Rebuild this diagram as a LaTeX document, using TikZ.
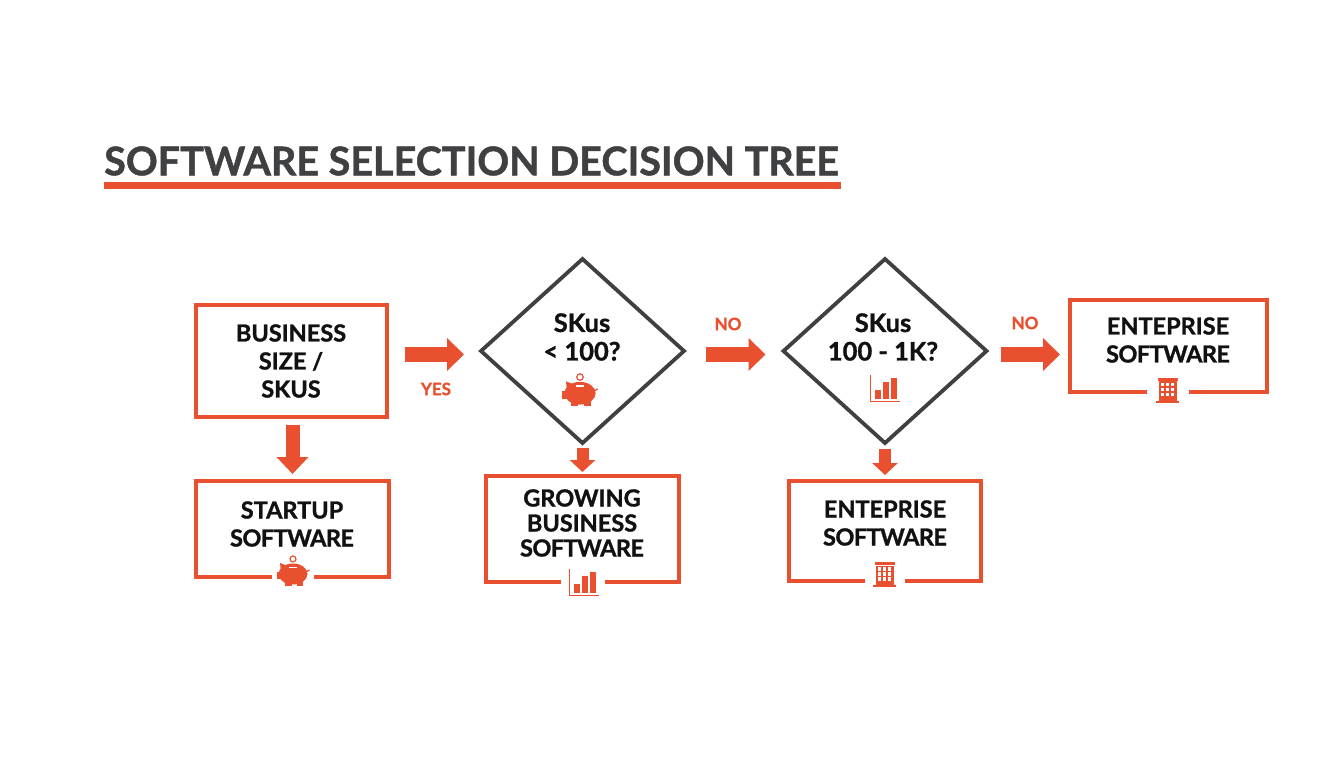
\documentclass[tikz,border=0pt]{standalone}
\usepackage{fontspec}
\setmainfont{Lato}[BoldFeatures={FakeBold=1.2}]
\usetikzlibrary{arrows.meta,shapes.geometric}
\definecolor{accent}{HTML}{E8502F}
\definecolor{slate}{HTML}{3F4042}
\definecolor{inkblack}{HTML}{111111}
\newcommand{\tight}[1]{{\addfontfeature{LetterSpace=-2.4}#1}}
\tikzset{
  boxline/.style={draw=accent,line width=3.6pt},
  frame/.style={inner sep=0pt,outer sep=0pt,minimum width=#1},
  decision/.style={shape=diamond,draw=slate,line width=3.8pt,inner sep=0pt,outer sep=0pt,minimum width=203pt,minimum height=184pt},
  lbl/.style={align=center,text=inkblack,font=\bfseries\fontsize{23.5}{28}\selectfont},
  asklbl/.style={align=center,text=inkblack,font=\bfseries\fontsize{25.5}{28.5}\selectfont},
  edgelbl/.style={text=accent,font=\bfseries\fontsize{17}{20}\selectfont},
  bigarrow/.style={draw=accent,fill=accent,line width=15pt,-{Triangle[length=17pt,width=32pt]}},
  midarrow/.style={draw=accent,fill=accent,line width=14pt,-{Triangle[length=17pt,width=31pt]}},
  smallarrow/.style={draw=accent,fill=accent,line width=12pt,-{Triangle[length=12pt,width=25pt]}},
  piggy/.pic={
    \fill[accent] (0,3) ellipse[x radius=14.5,y radius=10.5];
    \fill[accent] (-16.5,1) rectangle (-8,8);
    \fill[accent] (-13,-8) -- (-5,-5) -- (-12,1) -- cycle;
    \fill[accent] (-8,9) rectangle (-1.5,15);
    \fill[accent] (3.5,9) rectangle (10,15);
    \draw[accent,line width=1.2pt] (13,1) -- (16.5,-1);
    \draw[white,line width=1.3pt] (-4,-3.8) -- (4,-3.8);
    \draw[accent,line width=1.2pt] (0,-12) circle (3);
  },
  barsicon/.pic={
    \draw[accent,line width=1.4pt] (-14.5,-14) -- (-14.5,12.5) -- (14.5,12.5);
    \fill[accent] (-10,0.6) rectangle (-4.3,10);
    \fill[accent] (-2.3,-6.6) rectangle (4.3,10);
    \fill[accent] (6,-10.6) rectangle (12,10);
  },
  buildingicon/.pic={
    \fill[accent] (-10,-12.5) rectangle (10,-9.5);
    \fill[accent] (-9,-9) rectangle (9,10.5);
    \fill[accent] (-11.5,10.5) rectangle (11.5,12.5);
    \foreach \i in {-5,0,5}
      \foreach \j in {-5.5,-0.5,4.5}
        \fill[white] (\i-1.7,\j-1.7) rectangle (\i+1.7,\j+1.7);
  }
}
% box with a gap in the bottom edge
\newcommand{\openbox}[3]{%
  \draw[boxline] ([xshift=#2pt]#1.south) -- (#1.south west) -- (#1.north west)
    -- (#1.north east) -- (#1.south east) -- ([xshift=#3pt]#1.south);}
\begin{document}
\begin{tikzpicture}[x=1pt,y=-1pt]
  \useasboundingbox (0,0) rectangle (1344,768);
  % title
  \node[anchor=west,inner sep=0pt,text=slate,font=\bfseries\fontsize{39.5}{44}\selectfont] (title) at (104,161) {SOFTWARE SELECTION DECISION TREE};
  \fill[accent] (104,182) rectangle (841,189);
  % boxes
  \node[frame=191pt,minimum height=112pt] (box1) at (291.5,361) {};
  \draw[boxline] (box1.south west) rectangle (box1.north east);
  \node[lbl] (box1txt) at (291,361) {BUSINESS\\SIZE /\\SKUS};
  \node[frame=193pt,minimum height=96pt] (startup) at (292.5,529) {};
  \openbox{startup}{-21}{21}
  \node[lbl] (startuptxt) at (292,524) {STARTUP\\\tight{SOFTWARE}};
  \pic (pig1) at (293,571) {piggy};
  \node[frame=193pt,minimum height=106pt] (growing) at (582.5,529) {};
  \openbox{growing}{-22}{22}
  \node[lbl,font=\bfseries\fontsize{23.5}{25}\selectfont] (growingtxt) at (582,523) {GROWING\\BUSINESS\\\tight{SOFTWARE}};
  \pic (bars1) at (584,583) {barsicon};
  \node[frame=192pt,minimum height=100pt] (ent1) at (885,531) {};
  \openbox{ent1}{-20}{20}
  \node[lbl] (ent1txt) at (885,523) {ENTEPRISE\\\tight{SOFTWARE}};
  \pic (bldg1) at (884.5,574.5) {buildingicon};
  \node[frame=197pt,minimum height=92pt] (ent2) at (1168.5,346) {};
  \openbox{ent2}{-21.5}{20.5}
  \node[lbl] (ent2txt) at (1168,340) {ENTEPRISE\\\tight{SOFTWARE}};
  \pic (bldg2) at (1167.5,390) {buildingicon};
  % decisions
  \node[decision] (d1) at (582.5,351) {};
  \node[asklbl] (d1txt) at (582,337) {SKus\\< 100?};
  \pic[scale=1.08] (pig2) at (580,390) {piggy};
  \node[decision] (d2) at (885,351) {};
  \node[asklbl] (d2txt) at (883,337) {SKus\\100 - 1K?};
  \pic (bars2) at (885,389) {barsicon};
  % arrows
  \coordinate (row) at (0,354.5);
  \draw[bigarrow,shorten <=18pt,shorten >=17pt] (box1.east |- row) -- (d1.west |- row);
  \draw[bigarrow,shorten <=22pt,shorten >=18pt] (d1.east |- row) -- (d2.west |- row);
  \draw[bigarrow,shorten <=14pt,shorten >=10pt] (d2.east |- row) -- (ent2.west |- row);
  \draw[midarrow,shorten <=8pt,shorten >=7pt] (startup.north |- box1.south) -- (startup.north);
  \draw[smallarrow,shorten <=5pt,shorten >=4pt] (d1.south) -- (growing.north);
  \draw[smallarrow,shorten <=6pt,shorten >=6pt] (d2.south) -- (ent1.north);
  % edge labels
  \node[edgelbl] (yes) at (436,389) {YES};
  \node[edgelbl] (no1) at (728,324) {NO};
  \node[edgelbl] (no2) at (1025,323) {NO};
\end{tikzpicture}
\end{document}
